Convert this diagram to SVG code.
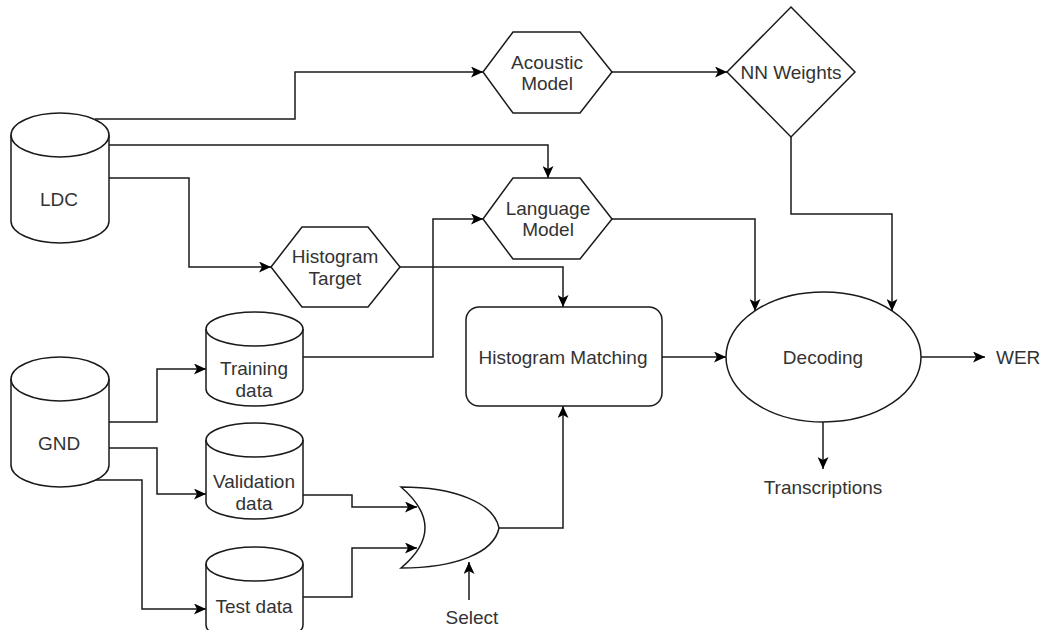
<svg xmlns="http://www.w3.org/2000/svg" width="1043" height="630" viewBox="0 0 1043 630">
<style>
.s{fill:#fff;stroke:#1a1a1a;stroke-width:1.5}
.c{fill:none;stroke:#1a1a1a;stroke-width:1.5;marker-end:url(#a)}
.n{fill:none;stroke:#1a1a1a;stroke-width:1.5}
text{font-family:"Liberation Sans",Arial,sans-serif;font-size:19px;fill:#333;text-anchor:middle}
</style>
<defs>
<marker id="a" markerUnits="userSpaceOnUse" markerWidth="13" markerHeight="11" refX="12" refY="5.5" orient="auto">
<path d="M0,0 L12,5.5 L0,11 L3,5.5 z" fill="#000"/>
</marker>
</defs>
<rect width="1043" height="630" fill="#fff"/>
<g id="connectors">
<polyline class="c" points="95,119 295,119 295,72 483,72"/>
<polyline class="c" points="109,145 548,145 548,178"/>
<polyline class="c" points="109,178 189,178 189,267 271,267"/>
<polyline class="c" points="612,72 727,72"/>
<polyline class="c" points="791,137 791,214 892,214 892,311"/>
<polyline class="c" points="612,219 755,219 755,311"/>
<polyline class="c" points="400,267 563,267 563,307"/>
<polyline class="c" points="303,357 433,357 433,219 483,219"/>
<polyline class="c" points="109,422 157,422 157,369 206,369"/>
<polyline class="c" points="109,448 157,448 157,494 206,494"/>
<polyline class="c" points="95,480 142,480 142,609 206,609"/>
<polyline class="c" points="303,495 352,495 352,507 417,507"/>
<polyline class="c" points="303,597 352,597 352,548 417,548"/>
<polyline class="c" points="499,528 563,528 563,406"/>
<polyline class="c" points="469,600 469,562"/>
<polyline class="c" points="662,357 726,357"/>
<polyline class="c" points="921,357 985,357"/>
<polyline class="c" points="823,422 823,469"/>
</g>
<g id="ldc">
<path class="s" d="M11,135 A49,22 0 0 1 109,135 V221 A49,22 0 0 1 11,221 Z"/>
<path class="n" d="M11,135 A49,22 0 0 0 109,135"/>
<text x="59" y="206">LDC</text>
</g>
<g id="gnd">
<path class="s" d="M11,379 A49,22 0 0 1 109,379 V465 A49,22 0 0 1 11,465 Z"/>
<path class="n" d="M11,379 A49,22 0 0 0 109,379"/>
<text x="59" y="450">GND</text>
</g>
<g id="acoustic-model">
<polygon class="s" points="483,72 513,32 580,32 612,72 580,113 513,113"/>
<text x="547" y="69">Acoustic</text>
<text x="547" y="90">Model</text>
</g>
<g id="language-model">
<polygon class="s" points="483,219 513,178 580,178 612,219 580,259 513,259"/>
<text x="548" y="215">Language</text>
<text x="548" y="236">Model</text>
</g>
<g id="histogram-target">
<polygon class="s" points="271,267 302,227 368,227 400,267 368,307 302,307"/>
<text x="335" y="263">Histogram</text>
<text x="335" y="285">Target</text>
</g>
<g id="nn-weights">
<polygon class="s" points="791,7 855,72 791,137 727,72"/>
<text x="791" y="79">NN Weights</text>
</g>
<g id="training-data">
<path class="s" d="M206,329 A48.5,17 0 0 1 303,329 V389 A48.5,17 0 0 1 206,389 Z"/>
<path class="n" d="M206,329 A48.5,17 0 0 0 303,329"/>
<text x="254" y="375">Training</text>
<text x="254" y="397">data</text>
</g>
<g id="validation-data">
<path class="s" d="M206,440 A48.5,17 0 0 1 303,440 V502 A48.5,17 0 0 1 206,502 Z"/>
<path class="n" d="M206,440 A48.5,17 0 0 0 303,440"/>
<text x="254" y="488">Validation</text>
<text x="254" y="510">data</text>
</g>
<g id="test-data">
<path class="s" d="M206,564 A48.5,17 0 0 1 303,564 V625 A48.5,17 0 0 1 206,625 Z"/>
<path class="n" d="M206,564 A48.5,17 0 0 0 303,564"/>
<text x="254" y="613">Test data</text>
</g>
<g id="histogram-matching">
<rect class="s" x="466" y="307" width="196" height="99" rx="13"/>
<text x="563" y="364">Histogram Matching</text>
</g>
<g id="or-gate">
<path class="s" d="M401,487 C455,487 494,503 499,528 C494,553 455,568 401,568 Q449,528 401,487 Z"/>
</g>
<g id="decoding">
<ellipse class="s" cx="823.5" cy="357" rx="97.5" ry="65"/>
<text x="823" y="364">Decoding</text>
</g>
<g id="wer"><text x="996" y="364" style="text-anchor:start">WER</text></g>
<g id="transcriptions"><text x="823" y="494">Transcriptions</text></g>
<g id="select"><text x="472" y="624">Select</text></g>
</svg>
